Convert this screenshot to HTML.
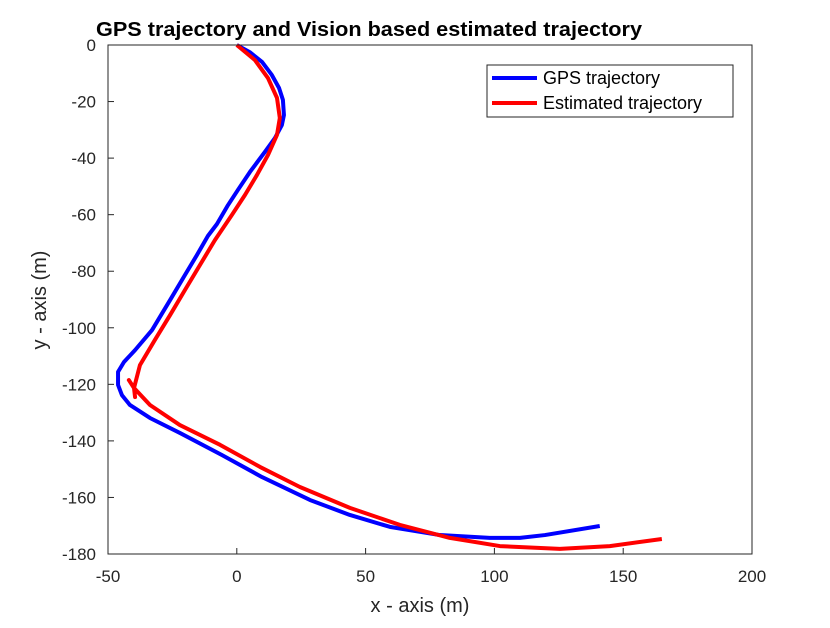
<!DOCTYPE html>
<html><head><meta charset="utf-8"><style>
body{margin:0;background:#fff;}
svg text{font-family:"Liberation Sans",sans-serif;}
</style></head><body>
<svg width="830" height="623" id="c">
<rect width="830" height="623" fill="#fff"/>
<text x="96" y="36" font-size="20" font-weight="bold" textLength="546" lengthAdjust="spacingAndGlyphs">GPS trajectory and Vision based estimated trajectory</text>
<g id="ticks"></g>
<g id="lines"></g>
<rect x="108" y="45" width="644" height="509" fill="none" stroke="#262626" stroke-width="1"/>
<text x="420" y="612" font-size="20" text-anchor="middle" fill="#262626">x - axis (m)</text>
<text transform="translate(46,300) rotate(-90)" font-size="20" text-anchor="middle" fill="#262626">y - axis (m)</text>
<g>
<rect x="487" y="65" width="246" height="52" fill="#fff" stroke="#262626" stroke-width="1"/>
<line x1="492" y1="78" x2="537" y2="78" stroke="#0000ff" stroke-width="4"/>
<text x="543" y="84" font-size="18" fill="#000">GPS trajectory</text>
<line x1="492" y1="103" x2="537" y2="103" stroke="#ff0000" stroke-width="4"/>
<text x="543" y="109" font-size="18" fill="#000">Estimated trajectory</text>
</g>
</svg>
<script>
const xTicks=[-50,0,50,100,150,200];
const yTicks=[0,-20,-40,-60,-80,-100,-120,-140,-160,-180];
const gpsX=[0,5,9.8,13.6,16.4,17.9,18.3,17.5,14.8,10.9,5.1,0.4,-3.4,-7.7,-11.2,-15.5,-20.1,-25.9,-32.9,-39.5,-43.8,-46.1,-46.1,-44.6,-41.5,-33.7,-22.1,-5.8,9.8,28.4,43.9,59.4,78.8,98.2,109.9,119.6,140.9];
const gpsY=[0,-2.5,-6,-10.6,-15.2,-19.4,-24.8,-28.3,-32.9,-37.8,-44.9,-51.3,-56.6,-63.3,-67.5,-74.3,-81.3,-90.2,-100.8,-107.9,-112.1,-115.6,-120.2,-123.8,-127.3,-131.9,-137.2,-145,-152.8,-160.9,-166.2,-170.4,-173.3,-174.3,-174.3,-173.3,-170.1];
const estX=[0,7,12.1,15.6,16.7,15.6,12.1,7.8,3.2,-1.9,-8.5,-14.3,-20.1,-25.9,-31.8,-37.6,-39.9,-41.9,-39.9,-39.5,-39.9,-33.7,-22.1,-6.5,9,24.5,43.9,63.3,82.7,102.1,125.4,144.8,165];
const estY=[0,-5.3,-11.7,-18.7,-25.8,-31.8,-38.9,-46,-53,-60.1,-69,-77.8,-86.6,-95.5,-104.3,-113.2,-121.3,-118.5,-121.3,-124.5,-121.3,-127.3,-134.4,-141.4,-149.2,-156.3,-163.7,-169.7,-174.3,-177.2,-178.2,-177.2,-174.7];
const L=108,R=752,T=45,B=554;
function sx(v){return L+(v-(-50))/(250)*(R-L);}
function sy(v){return T+(0-v)/180*(B-T);}
const NS="http://www.w3.org/2000/svg";
const tg=document.getElementById('ticks');
xTicks.forEach(v=>{
  const l=document.createElementNS(NS,'line');
  l.setAttribute('x1',sx(v));l.setAttribute('x2',sx(v));l.setAttribute('y1',B);l.setAttribute('y2',B-6);
  l.setAttribute('stroke','#262626');
  
  
  tg.appendChild(l);
  const t=document.createElementNS(NS,'text');
  t.setAttribute('x',sx(v));t.setAttribute('y',B+28);t.setAttribute('text-anchor','middle');t.setAttribute('font-size','17');t.setAttribute('fill','#262626');
  t.textContent=v;
  
  
  tg.appendChild(t);
});
yTicks.forEach(v=>{
  const l=document.createElementNS(NS,'line');
  l.setAttribute('x1',L);l.setAttribute('x2',L+6);l.setAttribute('y1',sy(v));l.setAttribute('y2',sy(v));
  l.setAttribute('stroke','#262626');
  
  
  tg.appendChild(l);
  const t=document.createElementNS(NS,'text');
  t.setAttribute('x',L-12);t.setAttribute('y',sy(v)+6);t.setAttribute('text-anchor','end');t.setAttribute('font-size','17');t.setAttribute('fill','#262626');
  t.textContent=v;
  
  
  tg.appendChild(t);
});
const lg=document.getElementById('lines');
function draw(xs,ys,col,name){
  const p=document.createElementNS(NS,'polyline');
  p.setAttribute('points',xs.map((x,i)=>sx(x)+','+sy(ys[i])).join(' '));
  p.setAttribute('fill','none');p.setAttribute('stroke',col);p.setAttribute('stroke-width','4');p.setAttribute('stroke-linejoin','round');
  
  
  lg.appendChild(p);
}
draw(gpsX,gpsY,'#0000ff','gps-trajectory-line');
draw(estX,estY,'#ff0000','estimated-trajectory-line');
</script>
</body></html>
